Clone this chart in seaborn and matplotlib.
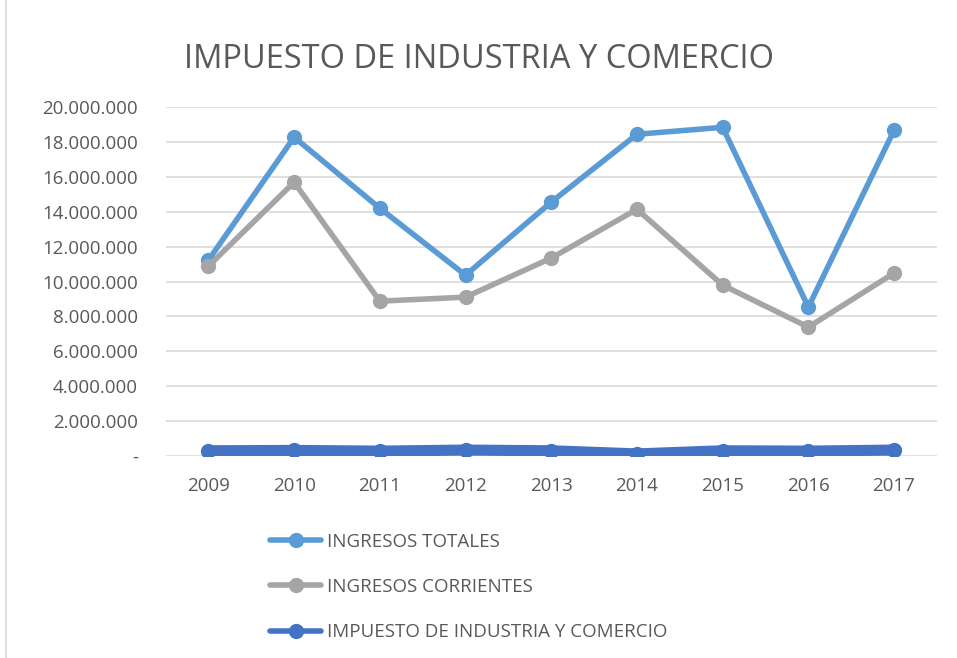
import pandas as pd
import seaborn as sns
import matplotlib.pyplot as plt
from matplotlib.ticker import FuncFormatter
from matplotlib.patches import Rectangle

years = ['2009', '2010', '2011', '2012', '2013', '2014', '2015', '2016', '2017']
ingresos_totales = [11230000, 18280000, 14210000, 10370000, 14560000, 18450000, 18850000, 8540000, 18680000]
ingresos_corrientes = [10890000, 15700000, 8880000, 9110000, 11350000, 14150000, 9800000, 7390000, 10490000]
impuesto_ic = [300000, 320000, 280000, 340000, 300000, 120000, 300000, 280000, 340000]

series = {
    'INGRESOS TOTALES': ingresos_totales,
    'INGRESOS CORRIENTES': ingresos_corrientes,
    'IMPUESTO DE INDUSTRIA Y COMERCIO': impuesto_ic,
}
colors = ['#5B9BD5', '#A5A5A5', '#4472C4']
widths = [4.0, 4.0, 8.0]

sns.set_style('white')
plt.rcParams['font.family'] = ['Open Sans', 'DejaVu Sans']

fig = plt.figure(figsize=(9.57, 6.58), dpi=100)
ax = fig.add_axes([0.173, 0.307, 0.806, 0.530])

x = list(range(len(years)))
for (name, vals), c, w in zip(series.items(), colors, widths):
    sns.lineplot(x=x, y=vals, ax=ax, color=c, linewidth=w, marker='o',
                 markersize=11, markeredgewidth=0, label=name)

ax.set_xlim(-0.5, len(years) - 0.5)
ax.set_ylim(0, 20000000)
ax.set_yticks(range(0, 20000001, 2000000))
ax.set_xticks(x)
ax.set_xticklabels(years)
ax.yaxis.set_major_formatter(FuncFormatter(
    lambda v, p: '-' if v == 0 else f'{int(v):,}'.replace(',', '.')))
ax.tick_params(axis='both', length=0, labelsize=13.5, labelcolor='#595959')
ax.tick_params(axis='y', pad=20)
ax.tick_params(axis='x', pad=15)
ax.grid(axis='y', color='#D9D9D9', linewidth=1.2)
ax.set_axisbelow(True)
for s in ax.spines.values():
    s.set_visible(False)

fig.text(0.5, 0.91, 'IMPUESTO DE INDUSTRIA Y COMERCIO', ha='center', va='center',
         fontsize=23.5, color='#595959')

leg = ax.legend(loc='upper left', bbox_to_anchor=(0.265, 0.216), bbox_transform=fig.transFigure,
                frameon=False, fontsize=13.5, labelcolor='#595959', handlelength=2.7,
                handletextpad=0.3, labelspacing=1.45)
for h in leg.get_lines():
    h.set_linewidth(4.0)

fig.patches.append(Rectangle((0.006, -0.01), 1.0, 1.02, transform=fig.transFigure,
                             fill=False, edgecolor='#D9D9D9', linewidth=1.2))

fig.savefig('out.png', dpi=100)
